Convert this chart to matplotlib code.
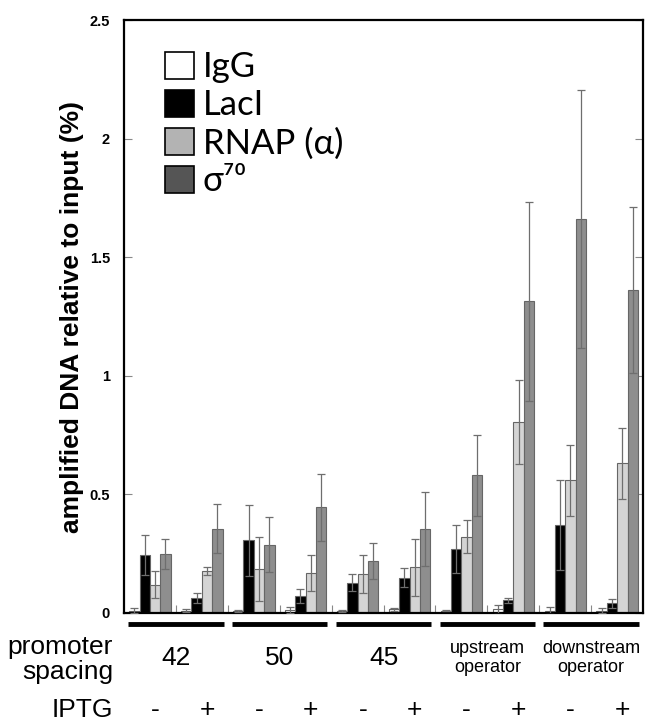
import numpy as np
import matplotlib
matplotlib.use("Agg")
import matplotlib.pyplot as plt
from matplotlib.patches import Patch
from matplotlib.transforms import blended_transform_factory

# datos
condiciones = ["42", "50", "45", "upstream\noperator", "downstream\noperator"]
iptg = ["-", "+"] * 5

igg = [0.010, 0.010, 0.010, 0.012, 0.010, 0.015, 0.010, 0.015, 0.010, 0.010]
igg_err = [0.010, 0.005, 0.004, 0.012, 0.004, 0.008, 0.003, 0.020, 0.015, 0.010]
laci = [0.246, 0.062, 0.306, 0.072, 0.127, 0.149, 0.269, 0.053, 0.372, 0.041]
laci_err = [0.084, 0.022, 0.150, 0.030, 0.036, 0.040, 0.100, 0.010, 0.190, 0.020]
rnap = [0.120, 0.177, 0.186, 0.169, 0.165, 0.193, 0.322, 0.806, 0.560, 0.632]
rnap_err = [0.058, 0.018, 0.135, 0.076, 0.080, 0.120, 0.070, 0.177, 0.150, 0.150]
sigma = [0.250, 0.356, 0.288, 0.445, 0.218, 0.353, 0.581, 1.314, 1.662, 1.363]
sigma_err = [0.063, 0.105, 0.115, 0.140, 0.076, 0.156, 0.170, 0.420, 0.545, 0.350]

series = [(igg, igg_err, "white"), (laci, laci_err, "black"),
          (rnap, rnap_err, "#d4d4d4"), (sigma, sigma_err, "#8e8e8e")]

fig = plt.figure(figsize=(6.49, 7.22), dpi=100)
ax = fig.add_axes([0.191, 0.151, 0.8, 0.821])

x = np.arange(10)
w = 0.2
for i, (vals, errs, col) in enumerate(series):
    pos = x - 0.3 + i * w
    ax.bar(pos, vals, width=w, color=col, edgecolor="#666666", linewidth=0.8, zorder=2)
    ax.errorbar(pos, vals, yerr=errs, fmt="none", ecolor="#6e6e6e",
                elinewidth=0.9, capsize=3, capthick=0.9, zorder=3)

ax.set_xlim(-0.5, 9.5)
ax.set_ylim(0, 2.5)
ax.set_yticks([0, 0.5, 1, 1.5, 2, 2.5])
ax.set_yticklabels(["0", "0.5", "1", "1.5", "2", "2.5"], fontweight="bold", fontsize=10.5,
                   family="Liberation Sans")
ax.set_xticks(np.arange(0.5, 9.5, 1))
ax.set_xticklabels([])
ax.tick_params(axis="y", direction="in", length=6, color="#888888", right=True, pad=10)
ax.tick_params(axis="x", direction="in", length=6, color="#888888")
for s in ax.spines.values():
    s.set_linewidth(1.6)
ax.set_ylabel("amplified DNA relative to input (%)", fontweight="bold", fontsize=19,
              family="Liberation Sans", labelpad=4)

# leyenda
handles = [Patch(facecolor=c, edgecolor="black", linewidth=1.2)
           for c in ["white", "black", "#b3b3b3", "#555555"]]
ax.legend(handles, ["IgG", "LacI", "RNAP (α)", "σ⁷⁰"], loc="upper left",
          bbox_to_anchor=(0.018, 1.0), frameon=False, handlelength=0.85, handleheight=0.85,
          handletextpad=0.25, labelspacing=0.17,
          prop={"family": ["Lato", "DejaVu Sans"], "size": 25})

# etiquetas debajo del eje
trans = blended_transform_factory(ax.transData, ax.transAxes)
for k, cond in enumerate(condiciones):
    ax.plot([2 * k - 0.42, 2 * k + 1.42], [-0.019, -0.019], color="black", lw=3.5,
            transform=trans, clip_on=False, solid_capstyle="butt")
    fs = 19 if "\n" not in cond else 13
    ax.text(2 * k + 0.5, -0.076, cond, transform=trans, ha="center", va="center",
            fontsize=fs, family="Liberation Sans", linespacing=1.1)
ax.text(-0.71, -0.078, "promoter\nspacing", transform=trans, ha="right", va="center",
        fontsize=19, family="Liberation Sans", linespacing=1.05)
ax.text(-0.71, -0.164, "IPTG", transform=trans, ha="right", va="center",
        fontsize=19, family="Liberation Sans")
for i, s in enumerate(iptg):
    ax.text(x[i] + 0.1, -0.164, s, transform=trans, ha="center", va="center",
            fontsize=19, family="Liberation Sans")

fig.savefig("out.png", dpi=100)
